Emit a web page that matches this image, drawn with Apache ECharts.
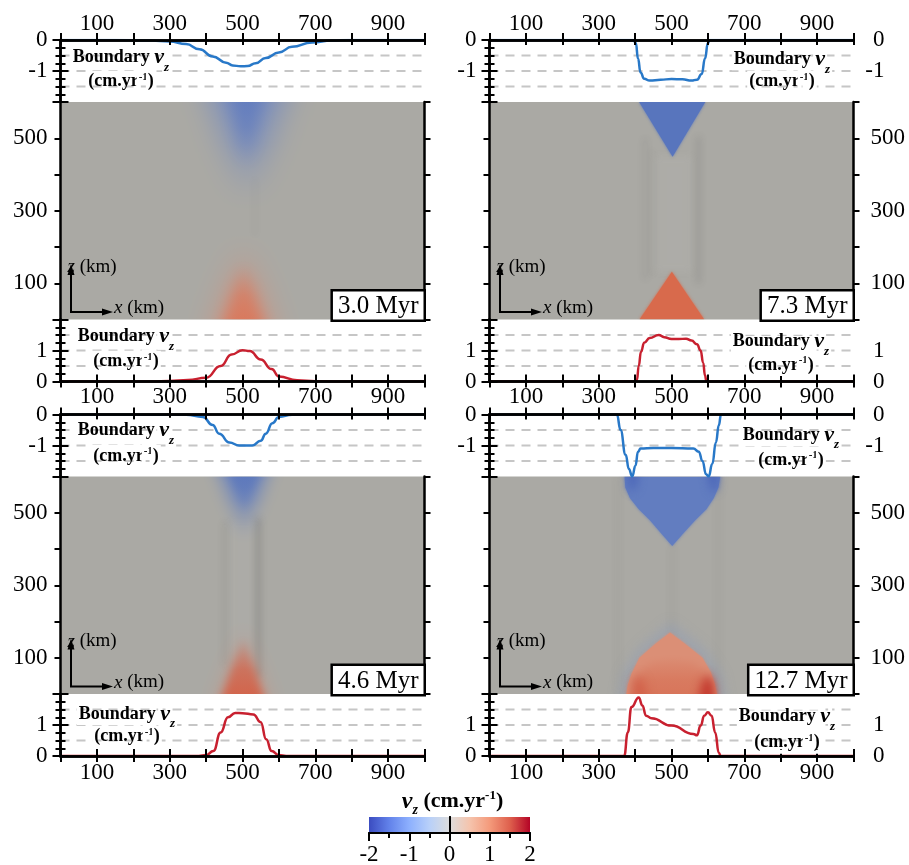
<!DOCTYPE html>
<html><head><meta charset="utf-8">
<script src="https://cdn.jsdelivr.net/npm/echarts@6/dist/echarts.min.js"></script>
<style>html,body{margin:0;padding:0;background:#fff}#c{width:909px;height:865px}</style>
</head><body><div id="c"></div>
<script>
// ================= DATA =================
const xTicks = [100, 300, 500, 700, 900];
const zTicks = [100, 300, 500];
const topLabels = [0, -1];
const botLabels = [0, 1];
const gridTop = [-0.5, -1, -1.5];
const gridBot = [0.5, 1, 1.5];
const cbTicks = [-2, -1, 0, 1, 2];
const times = ['3.0 Myr', '7.3 Myr', '4.6 Myr', '12.7 Myr'];

// boundary vz (cm/yr) along x (km): top boundary (blue) and bottom boundary (red)
const top30 = [[0,0],[100,0],[200,-0.005],[250,-0.02],[300,-0.05],[345,-0.13],[382,-0.3],[418,-0.53],[455,-0.73],[473,-0.82],[495,-0.85],[514,-0.84],[536,-0.75],[564,-0.58],[600,-0.4],[636,-0.22],[691,-0.08],[745,-0.02],[791,0],[1000,0]];
const bot30 = [[0,0],[250,0],[300,0.02],[350,0.05],[400,0.12],[440,0.5],[470,0.87],[500,1.01],[520,0.98],[550,0.71],[580,0.4],[600,0.16],[650,0.04],[700,0.01],[750,0],[1000,0]];
const top73 = [[0,0],[395,0],[402,-0.1],[408,-0.6],[415,-1.05],[425,-1.25],[440,-1.31],[470,-1.28],[500,-1.26],[530,-1.27],[555,-1.31],[570,-1.28],[583,-1.1],[592,-0.6],[600,-0.1],[605,0],[1000,0]];
const bot73 = [[0,0],[400,0],[405,0.05],[410,0.5],[416,0.95],[425,1.25],[440,1.4],[465,1.5],[480,1.43],[500,1.37],[520,1.37],[540,1.38],[555,1.32],[570,1.2],[580,1.0],[587,0.6],[592,0.2],[596,0],[1000,0]];
const top46 = [[0,0],[300,-0.01],[345,-0.01],[391,-0.08],[418,-0.34],[436,-0.62],[464,-0.9],[491,-1.0],[527,-1.0],[550,-0.85],[564,-0.62],[582,-0.28],[600,-0.08],[636,-0.01],[700,0],[1000,0]];
const bot46 = [[0,0],[380,0],[400,0.03],[420,0.16],[440,0.76],[460,1.25],[480,1.39],[500,1.38],[530,1.34],[550,1.09],[565,0.54],[580,0.16],[600,0.03],[620,0],[1000,0]];
const top127 = [[0,0],[350,0],[360,-0.5],[374,-1.3],[383,-1.76],[392,-2.0],[401,-1.65],[408,-1.2],[415,-1.1],[450,-1.08],[500,-1.08],[560,-1.1],[575,-1.2],[585,-1.5],[595,-1.93],[602,-2.0],[612,-1.6],[622,-0.9],[630,-0.35],[636,0],[1000,0]];
const bot127 = [[0,0],[370,0],[380,0.76],[390,1.58],[410,1.89],[420,1.63],[430,1.3],[445,1.22],[500,0.98],[560,0.71],[570,0.67],[580,0.98],[590,1.3],[600,1.41],[610,1.3],[620,0.76],[630,0.1],[635,0],[1000,0]];

// vz field regions (value cm/yr, fade direction, outline [x km, z km]); soft = blurred edges
const heat30 = [
  {v:-0.8, fade:'down', op:0.9, soft:true, blur:30, pts:[[390,680],[640,680],[512,290]]},
  {v:-1.1, fade:'down', op:1, soft:true, blur:16, pts:[[455,660],[568,660],[510,400]]},
  {v:0.7, fade:'up', op:0.85, soft:true, blur:28, pts:[[405,-60],[600,-60],[503,250]]},
  {v:1.3, fade:'up', op:1, soft:true, blur:14, pts:[[440,-40],[566,-40],[502,170]]}
];
const heat73 = [
  {v:-1.25, blur:3, pts:[[411,600],[593,600],[503,449]]},
  {v:1.45, blur:3, pts:[[412,0],[590,0],[501,132]]}
];
const heat46 = [
  {v:-1.0, fade:'down', op:0.95, soft:true, blur:16, pts:[[418,660],[588,660],[505,410]]},
  {v:-1.25, fade:'down', op:0.95, soft:true, blur:8, pts:[[448,650],[562,650],[505,490]]},
  {v:0.6, fade:'up', op:0.55, soft:true, blur:18, pts:[[418,-40],[586,-40],[502,215]]},
  {v:1.55, fade:'up', op:1, soft:true, blur:8, pts:[[436,-30],[566,-30],[502,165]]}
];
const heat127 = [
  {v:-0.5, op:0.35, soft:true, blur:12, pts:[[352,-30],[366,55],[410,125],[497,198],[590,125],[636,55],[652,-30]]},
  {v:-1.05, blur:3, pts:[[371,600],[373,570],[386,540],[410,510],[440,480],[470,445],[502,408],[534,445],[566,480],[596,510],[616,540],[629,570],[634,600]]},
  {v:-1.8, op:0.75, soft:true, blur:10, pts:[[378,640],[412,640],[402,568],[384,560]]},
  {v:-1.8, op:0.75, soft:true, blur:10, pts:[[594,640],[630,640],[626,562],[610,560]]},
  {v:0.9, blur:3, pts:[[376,0],[380,25],[390,55],[412,100],[455,138],[496,170],[538,138],[585,100],[608,60],[618,30],[625,0]]},
  {v:1.5, fade:'up', op:0.7, soft:true, blur:10, pts:[[395,-30],[402,50],[445,95],[500,110],[560,95],[605,50],[612,-30]]},
  {v:2.0, op:0.9, soft:true, blur:10, pts:[[572,-30],[582,30],[602,55],[617,28],[622,-30]]},
  {v:1.7, op:0.55, soft:true, blur:10, pts:[[384,-30],[390,35],[410,55],[428,28],[436,-30]]}
];
// soft vertical shading streaks: [x km, z0, z1, width km, strength (+dark / -light)]
const str30 = [[534,230,390,5,0.07]];
const str73 = [[505,130,450,100,-0.10],[428,110,500,7,0.14],[447,120,470,5,0.08],[574,100,505,8,0.22]];
const str46 = [[500,60,480,80,-0.08],[452,80,475,6,0.18],[543,45,485,8,0.38]];
const str127 = [[353,0,600,12,0.05],[628,0,600,12,0.06],[502,165,410,2,0.3]];

// shaded field colour scale and colorbar (cool-to-warm) stops
const heatStops = [[-2,'#3d55b2'],[-1.5,'#4d69ba'],[-1.2,'#5a77be'],[-0.8,'#7088c2'],[-0.4,'#8d9cbc'],[0,'#aaa9a4'],[0.5,'#c9917f'],[1.0,'#e08e74'],[1.45,'#d86a4c'],[2.0,'#c2352b']];
const cbStops = [[-2,'#3b4cc0'],[-1.5,'#6282ea'],[-1,'#8db0fe'],[-0.5,'#b8d0f9'],[0,'#dddddd'],[0.5,'#f5c4ad'],[1,'#f49a7b'],[1.5,'#de604d'],[2,'#b40426']];

// ================= LAYOUT / STYLE =================
const FONT = '"Liberation Serif", "Times New Roman", serif';
const colLeft = [60.5, 489.5], rowTop = [40, 414.5], W = 364, HL = 62, HH = 217.5;
const BLUE = '#2878c8', RED = '#c8202f';
const panels = [
  {c:0, r:0, top:top30, bot:bot30, heat:heat30, str:str30, lt:[60.5,17.3,41.7], lb:[65.5,17.2,42.2]},
  {c:1, r:0, top:top73, bot:bot73, heat:heat73, str:str73, lt:[292.5,19.3,41.7], lb:[291.5,22.2,45.5]},
  {c:0, r:1, top:top46, bot:bot46, heat:heat46, str:str46, lt:[65.5,16.2,41.5], lb:[66.5,20,42.7]},
  {c:1, r:1, top:top127, bot:bot127, heat:heat127, str:str127, lt:[301.5,20.5,45.5], lb:[297.5,22.7,48.7]}
];

function hexToRgb(h){h=h.replace('#','');return [parseInt(h.slice(0,2),16),parseInt(h.slice(2,4),16),parseInt(h.slice(4,6),16)];}
function scaleColor(stops, v){
  if (v <= stops[0][0]) return hexToRgb(stops[0][1]);
  for (let i=1;i<stops.length;i++){
    if (v <= stops[i][0]){
      const t=(v-stops[i-1][0])/(stops[i][0]-stops[i-1][0]);
      const a=hexToRgb(stops[i-1][1]), b=hexToRgb(stops[i][1]);
      return a.map((x,k)=>Math.round(x+(b[k]-x)*t));
    }
  }
  return hexToRgb(stops[stops.length-1][1]);
}
const rgba=(c,a)=>`rgba(${c[0]},${c[1]},${c[2]},${a})`;

const grids=[], xAxis=[], yAxis=[], series=[], graphic=[];
const AXZ = 6;
const AXLINE = {show:true, lineStyle:{color:'#000', width:2.5}};
const TICKSTYLE = {color:'#000', width:2};
function lab(show, extra){return Object.assign({show, fontFamily:FONT, fontSize:23, color:'#000'}, extra||{});}

function addX(gi, pos, tickLen, showLab, margin){
  xAxis.push({type:'value', gridIndex:gi, position:pos, min:0, max:1000, interval:100, z:AXZ,
    axisLine:AXLINE, axisTick:{show:true, inside:true, length:tickLen, lineStyle:TICKSTYLE},
    axisLabel:lab(showLab,{margin, formatter:v=>xTicks.includes(Math.round(v))?String(Math.round(v)):''}),
    splitLine:{show:false}});
  return xAxis.length-1;
}
function addHiddenX(gi){
  xAxis.push({type:'value', gridIndex:gi, min:0, max:1000, show:false});
  return xAxis.length-1;
}
function addYLine(gi, pos, min, max, showLab, labels){
  const right = pos==='right';
  yAxis.push({type:'value', gridIndex:gi, position:pos, min, max, interval:1, z:AXZ,
    axisLine:AXLINE, axisTick:{show:true, inside:false, length:8, lineStyle:TICKSTYLE},
    minorTick:{show:true, splitNumber:4, length:5, lineStyle:TICKSTYLE},
    axisLabel:lab(showLab,{margin: right?31:13, align:'right',
      formatter:v=>labels.includes(Math.round(v))&&Math.abs(v-Math.round(v))<1e-6?String(Math.round(v)):''}),
    splitLine:{show:false}, minorSplitLine:{show:false}});
  return yAxis.length-1;
}
function addYHeat(gi, pos, showLab){
  const right = pos==='right';
  yAxis.push({type:'value', gridIndex:gi, position:pos, min:0, max:600, interval:100, z:AXZ,
    axisLine:AXLINE, axisTick:{show:true, inside:false, length:6, lineStyle:TICKSTYLE},
    axisLabel:lab(showLab,{margin: right?17:13, formatter:v=>zTicks.includes(Math.round(v))?String(Math.round(v)):''}),
    splitLine:{show:false}});
  return yAxis.length-1;
}

function gridLineSeries(xi, yi, vals){
  return {type:'custom', xAxisIndex:xi, yAxisIndex:yi, z:2, silent:true,
    data: vals.map(v=>[0,v]),
    renderItem:(params, api)=>{
      const y=api.value(1); const a=api.coord([0,y]), b=api.coord([1000,y]);
      return {type:'line', shape:{x1:a[0],y1:a[1],x2:b[0],y2:b[1]}, style:{stroke:'#c6c6c6', lineWidth:2, lineDash:[9,7]}};
    }};
}
function lineSeries(xi, yi, data, color){
  return {type:'line', xAxisIndex:xi, yAxisIndex:yi, data, symbol:'none', showSymbol:false,
    smooth:0.5, smoothMonotone:'x', lineStyle:{color, width:2.5}, z:4, silent:true};
}
const OFF = 3000;
function clipGroup(cs, child){
  return {type:'group', clipPath:{type:'rect', shape:{x:cs.x,y:cs.y,width:cs.width,height:cs.height}}, children:[child]};
}
function heatSeries(xi, yi, shapes){
  return {type:'custom', xAxisIndex:xi, yAxisIndex:yi, z:1, silent:true, clip:true,
    data: shapes.map((s,i)=>[i,0]),
    renderItem:(params, api)=>{
      const s=shapes[params.dataIndex];
      const soft=!!s.soft;
      const pts=s.pts.map(p=>{const c=api.coord(p); return soft?[c[0]+OFF,c[1]]:c;});
      const col=scaleColor(heatStops, s.v);
      const a = s.op==null?1:s.op;
      let fill;
      const st=[{offset:0,color:rgba(col,a)},{offset:0.5,color:rgba(col,a*0.7)},{offset:1,color:rgba(col,0)}];
      if (s.fade==='down') fill=new echarts.graphic.LinearGradient(0,0,0,1,st);
      else if (s.fade==='up') fill=new echarts.graphic.LinearGradient(0,1,0,0,st);
      else fill=rgba(col,a);
      const style = soft ? {fill, shadowBlur:s.blur, shadowColor:rgba(col,1), shadowOffsetX:-OFF}
                         : {fill, shadowBlur:s.blur||0, shadowColor:rgba(col,a*0.9)};
      return clipGroup(params.coordSys, {type:'polygon', shape:{points:pts}, style});
    }};
}
function streakSeries(xi, yi, streaks){
  return {type:'custom', xAxisIndex:xi, yAxisIndex:yi, z:1, silent:true, clip:true,
    data: streaks.map((s,i)=>[i,0]),
    renderItem:(params, api)=>{
      const s=streaks[params.dataIndex];
      const p0=api.coord([s[0]-s[3]/2, s[2]]), p1=api.coord([s[0]+s[3]/2, s[1]]);
      const c = s[4]>0 ? [60,60,62] : [210,209,204];
      const a = Math.abs(s[4]);
      return clipGroup(params.coordSys, {type:'rect', shape:{x:p0[0]+OFF, y:p0[1], width:p1[0]-p0[0], height:p1[1]-p0[1]},
          style:{fill:rgba(c,a), shadowBlur:7, shadowColor:rgba(c,1), shadowOffsetX:-OFF}});
    }};
}

// multi-part text (sub/superscripts) laid out from measured widths
const mctx = document.createElement('canvas').getContext('2d');
function richLine(parts, cx, cy, halo){
  const ws = parts.map(p=>{ mctx.font = p[1] + ' ' + FONT; return mctx.measureText(p[0]).width; });
  let x = cx - ws.reduce((a,b)=>a+b,0)/2;
  parts.forEach((p,i)=>{
    const fs = parseFloat(p[1].match(/(\d+)px/)[1]);
    const st = {fontFamily:FONT, fontSize:fs, fontWeight: /bold/.test(p[1])?'bold':'normal', fontStyle: /italic/.test(p[1])?'italic':'normal', fill:'#000'};
    if (halo) { st.textBorderColor='#fff'; st.textBorderWidth=4; }
    graphic.push({type:'text', x, y:cy+p[2], z:50, silent:true, style:{text:'{a|'+p[0]+'}', align:'left', verticalAlign:'middle', rich:{a:st}}});
    x += ws[i];
  });
}
function boundaryLabels(x, y1, y2){
  richLine([['Boundary ','bold 18px',0],['v','italic bold 22px',0],['z','italic bold 13px',10]], x, y1, true);
  richLine([['(cm.yr','bold 18px',0],['-1','bold 11px',-5],[')','bold 18px',0]], x, y2, true);
}

panels.forEach((P, pi)=>{
  const L=colLeft[P.c], T=rowTop[P.r];
  const gT=grids.length;
  grids.push({left:L, top:T, width:W, height:HL, outerBoundsMode:'none'});
  grids.push({left:L, top:T+HL, width:W, height:HH, show:true, backgroundColor:'#aaa9a4', borderWidth:0, outerBoundsMode:'none'});
  grids.push({left:L, top:T+HL+HH, width:W, height:HL, outerBoundsMode:'none'});
  const gH=gT+1, gB=gT+2;
  const xt=addX(gT,'bottom',7,false,0);
  addX(gT,'top',5,P.r===0,5);
  const yt=addYLine(gT,'left',-2,0,true,topLabels);
  addYLine(gT,'right',-2,0,P.c===1,topLabels);
  const xh=addHiddenX(gH);
  const yh=addYHeat(gH,'left',P.c===0);
  addYHeat(gH,'right',P.c===1);
  addX(gB,'top',6,false,0);
  const xb=addX(gB,'bottom',7,true,P.r===0?4:5);
  const yb=addYLine(gB,'left',0,2,true,botLabels);
  addYLine(gB,'right',0,2,P.c===1,botLabels);

  series.push(streakSeries(xh,yh,P.str));
  series.push(heatSeries(xh,yh,P.heat));
  series.push(gridLineSeries(xt,yt,gridTop));
  series.push(lineSeries(xt,yt,P.top,BLUE));
  series.push(gridLineSeries(xb,yb,gridBot));
  series.push(lineSeries(xb,yb,P.bot,RED));

  boundaryLabels(L+P.lt[0], T+P.lt[1], T+P.lt[2]);
  const TB=T+HL+HH;
  boundaryLabels(L+P.lb[0], TB+P.lb[1], TB+P.lb[2]);
  graphic.push({type:'text', x:L+W-1, y:TB, z:50, silent:true, style:{text:times[pi], font:'25px '+FONT, fill:'#000', align:'right', verticalAlign:'bottom',
    backgroundColor:'#fff', borderColor:'#000', borderWidth:2.5, padding:[2,5,0,5], lineHeight:26}});
  const ox=L+10.5, oy=TB-7.5;
  graphic.push({type:'polyline', z:50, silent:true, shape:{points:[[ox,oy-38],[ox,oy],[ox+33,oy]]}, style:{stroke:'#000', lineWidth:2, fill:null}});
  graphic.push({type:'polygon', z:50, silent:true, shape:{points:[[ox-3.5,oy-37],[ox+3.5,oy-37],[ox,oy-48]]}, style:{fill:'#000'}});
  graphic.push({type:'polygon', z:50, silent:true, shape:{points:[[ox+31,oy-3.5],[ox+31,oy+3.5],[ox+42,oy]]}, style:{fill:'#000'}});
  const ks={fontFamily:FONT, fontSize:19, fill:'#000'};
  graphic.push({type:'text', x:L+7, y:TB-52.5, z:50, silent:true, style:{text:'{i|z}{n| (km)}', align:'left', verticalAlign:'middle', rich:{i:Object.assign({},ks,{fontStyle:'italic'}), n:ks}}});
  graphic.push({type:'text', x:L+53.5, y:TB-11.5, z:50, silent:true, style:{text:'{i|x}{n| (km)}', align:'left', verticalAlign:'middle', rich:{i:Object.assign({},ks,{fontStyle:'italic'}), n:ks}}});
});

// colorbar
const gC=grids.length;
grids.push({left:369, top:817, width:161, height:16, outerBoundsMode:'none'});
xAxis.push({type:'value', gridIndex:gC, position:'bottom', min:-2, max:2, interval:1, z:AXZ,
  axisLine:{show:true, lineStyle:{color:'#000', width:2}}, axisTick:{show:true, inside:false, length:8, lineStyle:TICKSTYLE},
  minorTick:{show:true, splitNumber:2, length:5, lineStyle:TICKSTYLE},
  axisLabel:lab(true,{margin:10, formatter:v=>cbTicks.includes(Math.round(v))?String(Math.round(v)):''}), splitLine:{show:false}});
const xC=xAxis.length-1;
xAxis.push({type:'value', gridIndex:gC, position:'top', min:-2, max:2, z:AXZ, axisLine:{show:true, lineStyle:{color:'#000', width:2}}, axisTick:{show:false}, axisLabel:{show:false}, splitLine:{show:false}});
yAxis.push({type:'value', gridIndex:gC, position:'left', min:0, max:1, z:AXZ, axisLine:{show:true, lineStyle:{color:'#000', width:2}}, axisTick:{show:false}, axisLabel:{show:false}, splitLine:{show:false}});
const yC=yAxis.length-1;
yAxis.push({type:'value', gridIndex:gC, position:'right', min:0, max:1, z:AXZ, axisLine:{show:true, lineStyle:{color:'#000', width:2}}, axisTick:{show:false}, axisLabel:{show:false}, splitLine:{show:false}});
series.push({type:'custom', xAxisIndex:xC, yAxisIndex:yC, z:1, silent:true, data:[[0,0]],
  renderItem:(params, api)=>{
    const a=api.coord([cbStops[0][0],1]), b=api.coord([cbStops[cbStops.length-1][0],0]);
    const span=cbStops[cbStops.length-1][0]-cbStops[0][0];
    return {type:'rect', shape:{x:a[0], y:a[1], width:b[0]-a[0], height:b[1]-a[1]},
      style:{fill:new echarts.graphic.LinearGradient(0,0,1,0, cbStops.map(s=>({offset:(s[0]-cbStops[0][0])/span, color:s[1]})))}};
  }});
richLine([['v','italic bold 24px',0],['z','italic bold 14px',9],[' (cm.yr','bold 22px',0],['-1','bold 13px',-6],[')','bold 22px',0]], 452.5, 801.5, false);

const chart = echarts.init(document.getElementById('c'), null, {renderer:'canvas'});
chart.setOption({animation:false, backgroundColor:'#fff', grid:grids, xAxis, yAxis, series, graphic});
</script>
</body></html>
